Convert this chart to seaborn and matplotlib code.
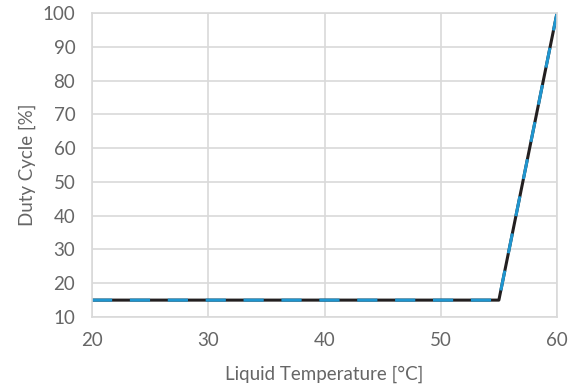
import pandas as pd
import matplotlib.pyplot as plt
import seaborn as sns

# Data
temperature = [20, 55, 60]
duty_cycle = [15, 15, 100]
x_ticks = [20, 30, 40, 50, 60]
y_ticks = [10, 20, 30, 40, 50, 60, 70, 80, 90, 100]

sns.set_style("white")
plt.rcParams['font.family'] = ['Lato', 'DejaVu Sans']

df = pd.DataFrame({'temp': temperature, 'duty': duty_cycle})

text_col = '#666666'
grid_col = '#d9d9d9'

fig = plt.figure(figsize=(5.78, 3.85), dpi=100)
ax = fig.add_axes([92 / 578, 1 - 317 / 385, (557 - 92) / 578, (317 - 13) / 385])

sns.lineplot(data=df, x='temp', y='duty', color='#231f20', linewidth=2.2, ax=ax)
sns.lineplot(data=df, x='temp', y='duty', color='#1f96d0', linewidth=2.2,
             linestyle=(0, (6.6, 5.8)), ax=ax)

ax.set_xlim(20, 60)
ax.set_ylim(10, 100)
ax.set_xticks(x_ticks)
ax.set_yticks(y_ticks)
ax.grid(True, color=grid_col, linewidth=1.2)
ax.set_axisbelow(True)
for s in ax.spines.values():
    s.set_color(grid_col)
    s.set_linewidth(1.2)

ax.tick_params(axis='both', length=0, labelsize=13.5, colors=text_col)
ax.tick_params(axis='x', pad=11)
ax.tick_params(axis='y', pad=12)
ax.set_xlabel('Liquid Temperature [°C]', fontsize=13.5, color=text_col, labelpad=12)
ax.set_ylabel('Duty Cycle [%]', fontsize=13.5, color=text_col, labelpad=5)

plt.savefig('out.png', dpi=100)
